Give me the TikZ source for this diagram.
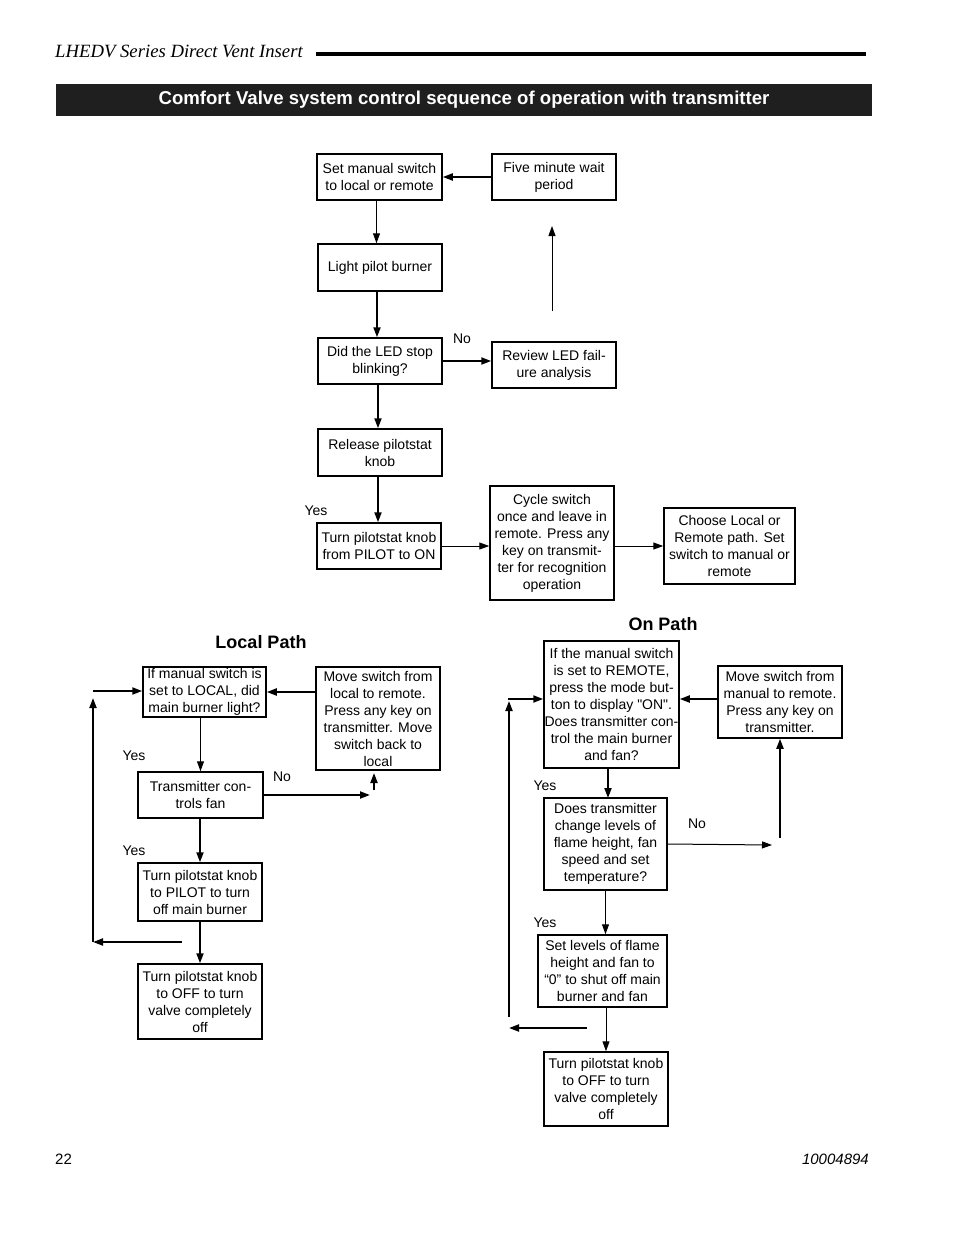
\documentclass[tikz,border=0pt]{standalone}
\usepackage{fontspec}
\setmainfont{Liberation Sans}[Ligatures=TeXOff]
\newfontfamily\hdrfont{Liberation Serif}
\usetikzlibrary{arrows.meta}
\begin{document}
\begin{tikzpicture}[x=1pt,y=-1pt,
  box/.style={draw, line width=1.5pt, align=center, inner sep=0pt, font=\fontsize{14}{17}\selectfont},
  lbl/.style={font=\fontsize{14}{17}\selectfont, inner sep=0pt},
  ttl/.style={font=\bfseries\fontsize{18}{21}\selectfont, inner sep=0pt},
  tk/.style={line width=2pt, -{Triangle[length=10pt,width=7pt]}},
  tn/.style={line width=1pt, -{Triangle[length=10pt,width=7pt]}},
  ln/.style={line width=2pt}]
\useasboundingbox (0,0) rectangle (954,1235);
\fill[white] (0,0) rectangle (954,1235);

% header
\node[anchor=base west, inner sep=0pt, font=\hdrfont\itshape\fontsize{18.7}{21}\selectfont] (hdr) at (55,57) {LHEDV Series Direct Vent Insert};
\draw[line width=3.5pt] (316,54) -- (866,54);
\node[fill=black!88, minimum width=816pt, minimum height=32pt, inner sep=0pt, text=white, font=\bfseries\fontsize{18.6}{21}\selectfont] (bar) at (464,100) {Comfort Valve system control sequence of operation with transmitter};

% top flow
\node[box, minimum width=125pt, minimum height=46pt] (set) at (379.5,177) {Set manual switch\\to local or remote};
\node[box, minimum width=124pt, minimum height=46pt] (five) at (554,177) {Five minute wait\\period};
\node[box, minimum width=124pt, minimum height=47pt] (light) at (380,267.5) {Light pilot burner};
\node[box, minimum width=124pt, minimum height=46pt] (did) at (380,361) {Did the LED stop\\blinking?};
\node[box, minimum width=124pt, minimum height=46pt] (review) at (554,365) {Review LED fail-\\ure analysis};
\node[box, minimum width=124pt, minimum height=47pt] (release) at (380,452.5) {Release pilotstat\\knob};
\node[box, minimum width=124pt, minimum height=46pt] (turn) at (379,546) {Turn pilotstat knob\\from PILOT to ON};
\node[box, minimum width=124pt, minimum height=114pt] (cycle) at (552,543) {Cycle switch\\once and leave in\\remote. Press any\\key on transmit-\\ter for recognition\\operation};
\node[box, minimum width=131pt, minimum height=76pt] (choose) at (729.5,546) {Choose Local or\\Remote path. Set\\switch to manual or\\remote};

\coordinate (upA) at (552,311);
\coordinate (upB) at (552,226);

\draw[tk] (five.west) -- (set.east);
\draw[tn] ([xshift=-3pt]set.south) -- ([xshift=-3pt]set.south |- light.north);
\draw[tn] (upA) -- (upB);
\draw[tk] ([xshift=-3pt]light.south) -- ([xshift=-3pt]light.south |- did.north);
\draw[tk] (did.east) -- (did.east -| review.west);
\draw[tk] ([xshift=-2pt]did.south) -- ([xshift=-2pt]did.south |- release.north);
\draw[tk] ([xshift=-2pt]release.south) -- ([xshift=-2pt]release.south |- turn.north);
\draw[tn] (turn.east) -- (turn.east -| cycle.west);
\draw[tn] (choose.west -| cycle.east) -- (choose.west);
\node[lbl, anchor=base] (no1) at (462,343) {No};
\node[lbl, anchor=base] (yes1) at (316,515) {Yes};

% local path
\node[ttl, anchor=base] (ltitle) at (261,648) {Local Path};
\node[box, minimum width=123pt, minimum height=50pt] (lq) at (204.5,692) {If manual switch is\\set to LOCAL, did\\main burner light?};
\node[box, minimum width=124pt, minimum height=103pt] (move) at (378,718.5) {Move switch from\\local to remote.\\Press any key on\\transmitter. Move\\switch back to\\local};
\node[box, minimum width=125pt, minimum height=46pt] (fan) at (200.5,795) {Transmitter con-\\trols fan};
\node[box, minimum width=124pt, minimum height=58pt] (pilot) at (200,892) {Turn pilotstat knob\\to PILOT to turn\\off main burner};
\node[box, minimum width=124pt, minimum height=75pt] (off) at (200,1001.5) {Turn pilotstat knob\\to OFF to turn\\valve completely\\off};

\coordinate (lin) at (93,691);
\coordinate (lbot) at (93,942);
\coordinate (ltop) at (93,698);
\coordinate (lret) at (182,942);
\coordinate (fno) at (370,795);
\coordinate (mupA) at (374,790);
\coordinate (mupB) at (374,773);

\draw[tk] (move.west |- lq.east) -- (lq.east);
\draw[tk] (lin) -- (lin -| lq.west);
\draw[tk] (lbot) -- (ltop);
\draw[tk] (lret) -- (lbot);
\draw[tn] (fan.north |- lq.south) -- (fan.north);
\draw[tk] (fan.east) -- (fno);
\draw[tk] (mupA) -- (mupB);
\draw[tk] (pilot.north |- fan.south) -- (pilot.north);
\draw[tk] (pilot.south) -- (off.north);
\node[lbl, anchor=base] (yes2) at (134,760) {Yes};
\node[lbl, anchor=base] (no2) at (282,781) {No};
\node[lbl, anchor=base] (yes3) at (134,855) {Yes};

% on path
\node[ttl, anchor=base] (otitle) at (663,630) {On Path};
\node[box, minimum width=135pt, minimum height=127pt] (oq) at (611.5,704.5) {If the manual switch\\is set to REMOTE,\\press the mode but-\\ton to display "ON".\\Does transmitter con-\\trol the main burner\\and fan?};
\node[box, minimum width=124pt, minimum height=72pt] (omove) at (780,702) {Move switch from\\manual to remote.\\Press any key on\\transmitter.};
\node[box, minimum width=123pt, minimum height=92pt] (ochange) at (605.5,844) {Does transmitter\\change levels of\\flame height, fan\\speed and set\\temperature?};
\node[box, minimum width=129pt, minimum height=72pt] (oset) at (602.5,971) {Set levels of flame\\height and fan to\\“0” to shut off main\\burner and fan};
\node[box, minimum width=124pt, minimum height=74pt] (ooff) at (606,1089) {Turn pilotstat knob\\to OFF to turn\\valve completely\\off};

\coordinate (oin) at (508,699);
\coordinate (obot) at (509,1017);
\coordinate (otop) at (509,701);
\coordinate (oretA) at (587,1028);
\coordinate (oretB) at (509,1028);
\coordinate (ono) at (772,845);
\coordinate (oupA) at (780,838);

\draw[tk] ([yshift=3pt]omove.west) -- ([yshift=3pt]omove.west -| oq.east);
\draw[tk] (oin) -- (oin -| oq.west);
\draw[tk] (obot) -- (otop);
\draw[tk] (oretA) -- (oretB);
\draw[tk] (608,767) -- (608,798);
\draw[tn] (ochange.east) -- (ono);
\draw[tk] (oupA) -- (omove.south);
\draw[tn] (ochange.south) -- (ochange.south |- oset.north);
\draw[tn] (ooff.north |- oset.south) -- (ooff.north);
\node[lbl, anchor=base] (yes4) at (545,790) {Yes};
\node[lbl, anchor=base] (no3) at (697,828) {No};
\node[lbl, anchor=base] (yes5) at (545,927) {Yes};

% footer
\node[anchor=base west, inner sep=0pt, font=\fontsize{15}{18}\selectfont] (pg) at (55,1164) {22};
\node[anchor=base east, inner sep=0pt, font=\itshape\fontsize{15}{18}\selectfont] (docno) at (869,1164) {10004894};
\end{tikzpicture}
\end{document}
